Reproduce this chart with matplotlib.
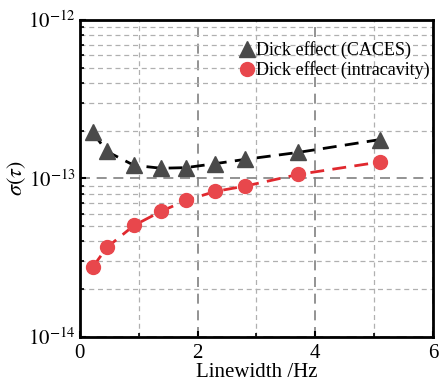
import numpy as np
import matplotlib
matplotlib.use("Agg")
import matplotlib.pyplot as plt
from matplotlib.ticker import FixedLocator, NullFormatter, MultipleLocator

# Data
lw_caces = [0.22, 0.46, 0.92, 1.38, 1.80, 2.30, 2.81, 3.71, 5.10]
sig_caces = [1.95e-13, 1.48e-13, 1.21e-13, 1.16e-13, 1.17e-13, 1.24e-13, 1.32e-13, 1.46e-13, 1.76e-13]
lw_intra = [0.22, 0.46, 0.92, 1.38, 1.80, 2.30, 2.81, 3.71, 5.10]
sig_intra = [2.76e-14, 3.67e-14, 5.05e-14, 6.2e-14, 7.26e-14, 8.28e-14, 8.95e-14, 1.06e-13, 1.27e-13]
labels = ["Dick effect (CACES)", "Dick effect (intracavity)"]
y_major = [1e-14, 1e-13, 1e-12]
y_tick_labels = [r'$10^{-14}$', r'$10^{-13}$', r'$10^{-12}$']
x_major = [0, 2, 4, 6]

plt.rcParams['font.family'] = ['Liberation Serif', 'DejaVu Serif']
plt.rcParams['mathtext.fontset'] = 'stix'

fig = plt.figure(figsize=(4.41, 3.85), dpi=100)
ax = fig.add_axes([0.181, 0.125, 0.801, 0.823])

ax.plot(lw_caces, sig_caces, color='black', lw=2, ls=(0, (5, 3)), zorder=3)
ax.plot(lw_intra, sig_intra, color='#e0282e', lw=2, ls=(0, (5, 3)), zorder=3)

ax.plot(lw_caces, sig_caces, ls='none', marker='^', ms=11, color='#4a4a4a',
        label=labels[0], zorder=4)
ax.plot(lw_intra, sig_intra, ls='none', marker='o', ms=10, color='#e8474c',
        label=labels[1], zorder=4)

ax.set_yscale('log')
ax.set_xlim(0, 6)
ax.set_ylim(1e-14, 1e-12)
ax.set_xticks(x_major)
ax.xaxis.set_minor_locator(MultipleLocator(1))
ax.set_yticks(y_major)
ax.set_yticklabels(y_tick_labels)
minors = [m * d for d in (1e-14, 1e-13) for m in range(2, 10)]
ax.yaxis.set_minor_locator(FixedLocator(minors))
ax.yaxis.set_minor_formatter(NullFormatter())

ax.grid(True, which='major', color='#808080', ls=(0, (6, 4)), lw=1.2)
ax.grid(True, which='minor', color='#b0b0b0', ls=(0, (4, 3)), lw=0.9)
ax.set_axisbelow(True)

for s in ax.spines.values():
    s.set_linewidth(2)
ax.tick_params(which='both', direction='in', labelsize=15)
ax.tick_params(which='major', length=4, width=1.5)
ax.tick_params(which='minor', length=3, width=1.2)
ax.tick_params(axis='x', pad=5)
ax.tick_params(axis='y', pad=3)

ax.set_xlabel('Linewidth /Hz', fontsize=15, labelpad=0)
ax.set_ylabel(r'$\sigma(\tau)$', fontsize=16, labelpad=0)

leg = ax.legend(loc='upper right', frameon=False, fontsize=13, handletextpad=0.0,
                handlelength=1.1, borderaxespad=0.0, labelspacing=0.1,
                bbox_to_anchor=(1.012, 0.955))

fig.savefig('out.png', dpi=100)
